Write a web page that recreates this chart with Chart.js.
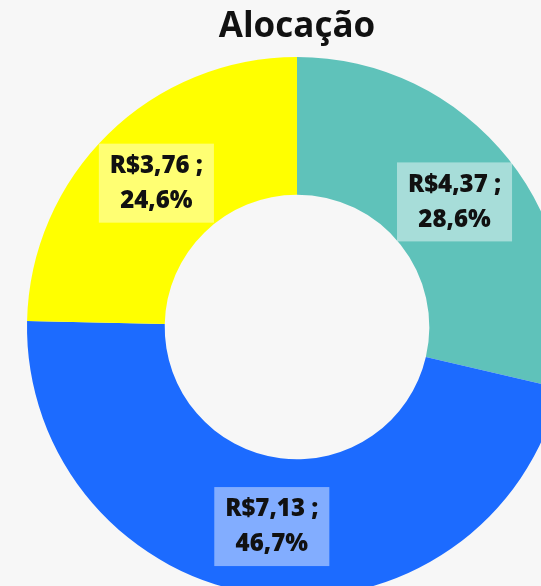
<!DOCTYPE html>
<html>
<head>
<meta charset="utf-8">
<script src="https://cdn.jsdelivr.net/npm/chart.js@4"></script>
<style>
  html, body { margin: 0; padding: 0; background: #f7f7f7; overflow: hidden; }
  #wrap { width: 594px; height: 654px; }
</style>
</head>
<body>
<div id="wrap"><canvas id="chart" width="594" height="654"></canvas></div>
<script>
// dados
const categorias = ['A', 'B', 'C'];
const valores = [4.37, 7.13, 3.76];
const cores = ['#5fc2ba', '#1c6bff', '#ffff00'];

// rótulos dentro das fatias: "R$x,xx ;" + percentual
const rotulosPlugin = {
  id: 'rotulos',
  afterDatasetsDraw(chart) {
    const ctx = chart.ctx;
    const meta = chart.getDatasetMeta(0);
    const total = valores.reduce((a, b) => a + b, 0);
    ctx.save();
    ctx.font = '800 24px "Open Sans", sans-serif';
    ctx.textAlign = 'center';
    ctx.textBaseline = 'middle';
    meta.data.forEach((arc, i) => {
      const p = arc.getProps(['x', 'y', 'startAngle', 'endAngle', 'innerRadius', 'outerRadius']);
      const meio = (p.startAngle + p.endAngle) / 2;
      const r = (p.innerRadius + p.outerRadius) / 2;
      const cx = p.x + Math.cos(meio) * r;
      const cy = p.y + Math.sin(meio) * r;
      const l1 = 'R$' + valores[i].toFixed(2).replace('.', ',') + ' ;';
      const l2 = (valores[i] / total * 100).toFixed(1).replace('.', ',') + '%';
      const w = Math.max(ctx.measureText(l1).width, ctx.measureText(l2).width) + 22;
      const h = 79;
      ctx.fillStyle = 'rgba(255,255,255,0.45)';
      ctx.fillRect(cx - w / 2, cy - h / 2, w, h);
      ctx.fillStyle = '#111';
      ctx.fillText(l1, cx, cy - 17);
      ctx.fillText(l2, cx, cy + 18);
    });
    ctx.restore();
  }
};

new Chart(document.getElementById('chart'), {
  type: 'doughnut',
  data: {
    labels: categorias,
    datasets: [{
      data: valores,
      backgroundColor: cores,
      borderWidth: 0
    }]
  },
  options: {
    responsive: false,
    animation: false,
    cutout: '49%',
    layout: { padding: { left: 27, right: 27, top: 0, bottom: 57 } },
    plugins: {
      legend: { display: false },
      tooltip: { enabled: false },
      title: {
        display: true,
        text: 'Alocação',
        color: '#111',
        font: { size: 35, weight: 'bold', family: '"Open Sans", sans-serif', lineHeight: 1.2 },
        padding: { top: 6, bottom: 9 }
      }
    }
  },
  plugins: [rotulosPlugin]
});
</script>
</body>
</html>
